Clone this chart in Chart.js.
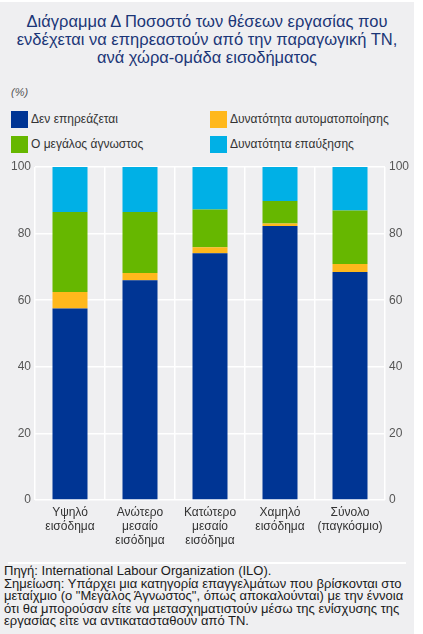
<!DOCTYPE html>
<html>
<head>
<meta charset="utf-8">
<script src="https://cdn.jsdelivr.net/npm/chart.js@4.4.1/dist/chart.umd.min.js"></script>
<style>
  html, body { margin:0; padding:0; background:#ffffff; }
  body { width:423px; height:634px; position:relative; overflow:hidden; font-family:"Liberation Sans", Arial, sans-serif; }
  #card { position:absolute; left:0; top:2px; width:414px; height:632px; background:#efeff1; }
  #title { position:absolute; left:0; top:12px; width:414px; text-align:center; color:#1b3677; font-size:16.5px; line-height:18px; }
  #unit { position:absolute; left:11px; top:86px; font-size:11px; font-style:italic; color:#555; }
  .leg { position:absolute; font-size:12px; color:#333; line-height:17px; white-space:nowrap; }
  .leg span.box { display:inline-block; width:17px; height:17px; vertical-align:top; margin-right:3px; }
  #chartwrap { position:absolute; left:0; top:150px; width:414px; height:405px; }
  #sep { position:absolute; left:8px; top:562px; width:398px; height:2px; background:#ffffff; }
  #note { position:absolute; left:4px; top:565px; font-size:13px; line-height:12.6px; color:#1a1a1a; white-space:nowrap; }
</style>
</head>
<body>
<div id="card"></div>
<div id="title">Διάγραμμα Δ Ποσοστό των θέσεων εργασίας που<br>ενδέχεται να επηρεαστούν από την παραγωγική ΤΝ,<br>ανά χώρα-ομάδα εισοδήματος</div>
<div id="unit">(%)</div>
<div id="legend"></div>
<div id="chartwrap"><canvas id="c"></canvas></div>
<div id="sep"></div>
<div id="note">Πηγή: International Labour Organization (ILO).<br>Σημείωση: Υπάρχει μια κατηγορία επαγγελμάτων που βρίσκονται στο<br>μεταίχμιο (ο "Μεγάλος Άγνωστος", όπως αποκαλούνται) με την έννοια<br>ότι θα μπορούσαν είτε να μετασχηματιστούν μέσω της ενίσχυσης της<br>εργασίας είτε να αντικατασταθούν από ΤΝ.</div>
<script>
// Data
const categories = [
  ["Υψηλό", "εισόδημα"],
  ["Ανώτερο", "μεσαίο", "εισόδημα"],
  ["Κατώτερο", "μεσαίο", "εισόδημα"],
  ["Χαμηλό", "εισόδημα"],
  ["Σύνολο", "(παγκόσμιο)"]
];
const notAffected   = [57.5, 66.0, 74.1, 82.3, 68.5];
const automation    = [5.0, 2.2, 1.8, 0.7, 2.4];
const bigUnknown    = [24.0, 18.3, 11.3, 6.8, 16.0];
const augmentation  = [13.5, 13.5, 12.8, 10.2, 13.1];
const seriesNames = ["Δεν επηρεάζεται", "Δυνατότητα αυτοματοποίησης", "Ο μεγάλος άγνωστος", "Δυνατότητα επαύξησης"];
const yTicks = [0, 20, 40, 60, 80, 100];

const colors = ["#003594", "#ffb81c", "#66b700", "#00b0e6"];
const seriesData = [notAffected, automation, bigUnknown, augmentation];

// HTML legend built from series names
const legendPos = [[11,111],[210,111],[11,136],[210,136]];
const legendOrder = [0,1,2,3];
const legEl = document.getElementById('legend');
legendOrder.forEach((si, i) => {
  const d = document.createElement('div');
  d.className = 'leg';
  d.style.left = legendPos[i][0] + 'px';
  d.style.top = legendPos[i][1] + 'px';
  d.innerHTML = '<span class="box" style="background:' + colors[si] + '"></span>' + seriesNames[si];
  legEl.appendChild(d);
});

// map legend positions: row1: not affected, automation; row2: big unknown, augmentation
const datasets = seriesData.map((arr, i) => ({
  label: seriesNames[i],
  data: arr,
  backgroundColor: colors[i],
  borderWidth: 0,
  barPercentage: 0.5,
  categoryPercentage: 1.0,
  stack: 's'
}));

const tickFont = { family: "Liberation Sans, Arial, sans-serif", size: 12 };

new Chart(document.getElementById('c'), {
  type: 'bar',
  data: { labels: categories, datasets },
  options: {
    responsive: true,
    maintainAspectRatio: false,
    animation: false,
    devicePixelRatio: 1,
    layout: { padding: { top: 17, bottom: 0, left: 0, right: 0 } },
    plugins: { legend: { display: false }, tooltip: { enabled: false } },
    scales: {
      x: {
        stacked: true,
        grid: { color: '#ffffff', lineWidth: 1.5, offset: true, drawTicks: false },
        border: { display: false },
        ticks: { color: '#333', font: tickFont, padding: 5, maxRotation: 0, autoSkip: false },
        afterFit: (s) => { s.height = 55; }
      },
      y: {
        stacked: true,
        min: 0, max: 100,
        position: 'left',
        grid: { color: '#ffffff', lineWidth: 1.5, drawTicks: false },
        border: { display: false },
        ticks: { stepSize: 20, color: '#555', font: tickFont, padding: 4,
                 callback: (v) => yTicks.includes(v) ? String(v) : null },
        afterFit: (s) => { s.width = 35; }
      },
      y2: {
        type: 'linear',
        min: 0, max: 100,
        position: 'right',
        grid: { display: false, drawTicks: false },
        border: { display: false },
        ticks: { stepSize: 20, color: '#555', font: tickFont, padding: 4,
                 callback: (v) => yTicks.includes(v) ? String(v) : null },
        afterFit: (s) => { s.width = 29; }
      }
    }
  }
});
</script>
</body>
</html>
